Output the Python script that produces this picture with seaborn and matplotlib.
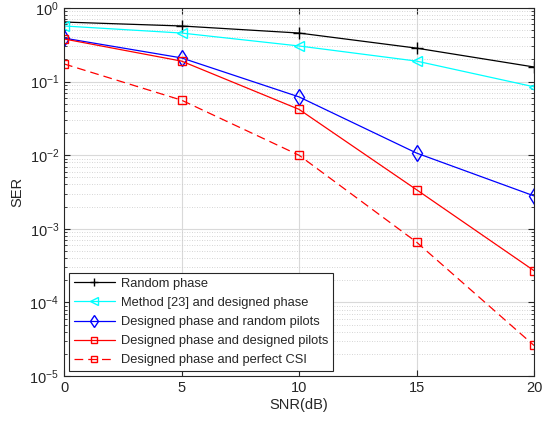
import numpy as np
import pandas as pd
import seaborn as sns
import matplotlib.pyplot as plt
from matplotlib.ticker import LogLocator, NullFormatter

# --- data ---
snr = [0, 5, 10, 15, 20]
random_phase = [0.645, 0.57, 0.457, 0.285, 0.158]
method23 = [0.57, 0.457, 0.305, 0.19, 0.085]
random_pilots = [0.39, 0.21, 0.062, 0.0107, 0.0028]
designed_pilots = [0.38, 0.19, 0.042, 0.0034, 0.00027]
perfect_csi = [0.174, 0.056, 0.0100, 0.00066, 0.000026]

labels = [
    "Random phase",
    "Method [23] and designed phase",
    "Designed phase and random pilots",
    "Designed phase and designed pilots",
    "Designed phase and perfect CSI",
]
series = [random_phase, method23, random_pilots, designed_pilots, perfect_csi]
styles = [
    dict(color="black", marker="+", linestyle="-", markersize=8),
    dict(color="cyan", marker="<", linestyle="-", markersize=7),
    dict(color="blue", marker="d", linestyle="-", markersize=8),
    dict(color="red", marker="s", linestyle="-", markersize=6),
    dict(color="red", marker="s", linestyle=(0, (7, 4)), markersize=6),
]

sns.set_style("ticks")
plt.rcParams["font.family"] = ["Liberation Sans", "DejaVu Sans"]

fig = plt.figure(figsize=(5.49, 4.24), dpi=100)
ax = fig.add_axes([0.1166, 0.1132, 0.8561, 0.8679])

for lab, vals, st in zip(labels, series, styles):
    df = pd.DataFrame({"SNR": snr, "SER": vals})
    sns.lineplot(data=df, x="SNR", y="SER", ax=ax, label=lab,
                 color=st["color"], marker=st["marker"], linestyle=st["linestyle"],
                 markersize=st["markersize"], markerfacecolor="none",
                 markeredgecolor=st["color"], markeredgewidth=1.0, linewidth=0.9)

ax.set_yscale("log")
ax.set_xlim(0, 20)
ax.set_ylim(1e-5, 1)
ax.set_xticks([0, 5, 10, 15, 20])
ax.yaxis.set_major_locator(LogLocator(base=10, numticks=10))
ax.yaxis.set_minor_locator(LogLocator(base=10, subs=np.arange(2, 10), numticks=10))
ax.yaxis.set_minor_formatter(NullFormatter())

ax.grid(True, which="major", color="#d9d9d9", linewidth=0.8, linestyle="-")
ax.grid(True, which="minor", axis="y", color="#c8c8c8", linewidth=0.6, linestyle=(0, (1, 2)))
ax.set_axisbelow(True)

ax.tick_params(which="both", direction="in", top=True, right=True, labelsize=10.5, colors="#262626")
ax.tick_params(which="major", length=4)
ax.tick_params(which="minor", length=2)
for sp in ax.spines.values():
    sp.set_color("#262626")
    sp.set_linewidth(0.8)

ax.set_xlabel("SNR(dB)", fontsize=10.5, color="#262626", labelpad=2)
ax.set_ylabel("SER", fontsize=10.5, color="#262626", labelpad=4)

leg = ax.legend(loc="lower left", fontsize=9.3, frameon=True, fancybox=False,
                edgecolor="#262626", framealpha=1, borderaxespad=0.4,
                handlelength=3.2, labelspacing=0.55, borderpad=0.35, handletextpad=0.5,
                markerscale=0.8)
leg.get_frame().set_linewidth(0.8)

fig.savefig("out.png", dpi=100)
